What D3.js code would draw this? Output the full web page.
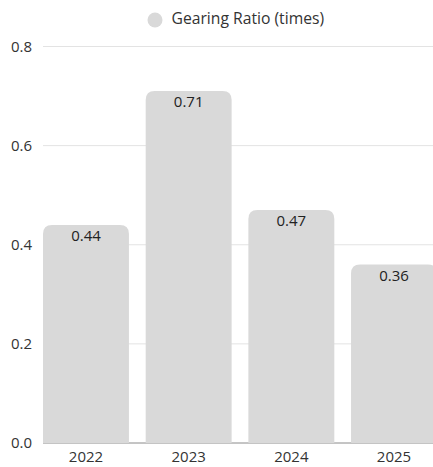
<!DOCTYPE html>
<html><head><meta charset="utf-8">
<script src="https://cdn.jsdelivr.net/npm/d3@7"></script>
<style>
html,body{margin:0;padding:0;background:#fff;overflow:hidden}
text{font-family:"Open Sans",sans-serif}
</style></head>
<body><svg id="c" width="433" height="467"></svg>
<script>
const categories = ["2022","2023","2024","2025"];
const values = [0.44, 0.71, 0.47, 0.36];
const labels = ["0.44","0.71","0.47","0.36"];
const yTicks = [0, 0.2, 0.4, 0.6, 0.8];
const seriesName = "Gearing Ratio (times)";

const svg = d3.select("#c");
const mLeft = 43, mRight = 437, mTop = 46.5, mBottom = 443;
const x = d3.scaleBand().domain(categories).range([mLeft, mRight]).paddingInner(0.163).paddingOuter(0);
const y = d3.scaleLinear().domain([0, 0.8]).range([mBottom, mTop]);

// gridlines
svg.append("g").selectAll("line").data(yTicks.filter(d=>d>0)).join("line")
  .attr("x1", mLeft).attr("x2", 433).attr("y1", d=>y(d)).attr("y2", d=>y(d))
  .attr("stroke", "#e3e3e3").attr("stroke-width", 1);
svg.append("line").attr("x1", mLeft).attr("x2", 433).attr("y1", y(0)).attr("y2", y(0))
  .attr("stroke", "#8a8a8a").attr("stroke-width", 1);

// y tick labels
svg.append("g").selectAll("text").data(yTicks).join("text")
  .attr("x", 32).attr("y", d=>y(d)).attr("dy", "0.35em").attr("text-anchor","end")
  .attr("font-size", 15).attr("fill", "#333").text(d=>d.toFixed(1));

// bars with rounded top
const r = 9;
function barPath(x0, w, yTop, yBot){
  const rr = Math.min(r, w/2, yBot-yTop);
  return `M${x0},${yBot}V${yTop+rr}Q${x0},${yTop} ${x0+rr},${yTop}H${x0+w-rr}Q${x0+w},${yTop} ${x0+w},${yTop+rr}V${yBot}Z`;
}
svg.append("g").selectAll("path").data(categories).join("path")
  .attr("d", (c,i)=>barPath(x(c), x.bandwidth(), y(values[i]), y(0)))
  .attr("fill", "#d9d9d9");

// value labels
svg.append("g").selectAll("text").data(categories).join("text")
  .attr("x", c=>x(c)+x.bandwidth()/2).attr("y", (c,i)=>y(values[i])+16)
  .attr("text-anchor","middle").attr("font-size", 15).attr("fill", "#222")
  .text((c,i)=>labels[i]);

// x labels
svg.append("g").selectAll("text").data(categories).join("text")
  .attr("x", c=>x(c)+x.bandwidth()/2).attr("y", 462)
  .attr("text-anchor","middle").attr("font-size", 15).attr("fill", "#333").text(c=>c);

// legend
svg.append("circle").attr("cx", 155).attr("cy", 20).attr("r", 7.5).attr("fill", "#d9d9d9");
svg.append("text").attr("x", 171.5).attr("y", 24.2).attr("font-size", 15.7)
  .attr("fill", "#333").text(seriesName);
</script></body></html>
